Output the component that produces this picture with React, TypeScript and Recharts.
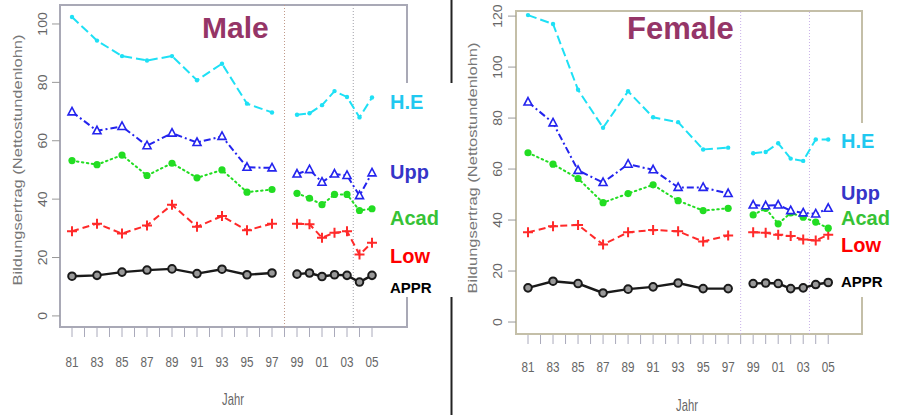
import { LineChart, Line, XAxis, YAxis, ReferenceArea, ReferenceLine } from 'recharts';

// years (1998 is an empty row to break the lines)
const years = [1981, 1983, 1985, 1987, 1989, 1991, 1993, 1995, 1997, 1998, 1999, 2000, 2001, 2002, 2003, 2004, 2005];
const xTicks = [1981, 1982, 1983, 1984, 1985, 1986, 1987, 1988, 1989, 1990, 1991, 1992, 1993, 1994, 1995, 1996, 1997, 1998, 1999, 2000, 2001, 2002, 2003, 2004, 2005];
const maleYTicks = [0, 20, 40, 60, 80, 100];
const femaleYTicks = [0, 20, 40, 60, 80, 100, 120];

const maleHE = [102.4, 94.3, 89.0, 87.5, 89.0, 80.7, 86.4, 72.7, 69.7, null, 68.9, 69.4, 72.2, 77.0, 75.0, 68.0, 74.8];
const maleUpp = [69.9, 63.4, 64.9, 58.3, 62.6, 59.4, 61.5, 50.9, 50.7, null, 48.6, 50.1, 45.8, 48.6, 48.1, 41.2, 49.0];
const maleAcad = [53.2, 51.8, 55.1, 48.1, 52.3, 47.3, 50.0, 42.4, 43.3, null, 42.0, 40.3, 38.1, 41.6, 41.6, 36.1, 36.7];
const maleLow = [29.0, 31.6, 28.2, 31.0, 38.1, 30.5, 34.2, 29.3, 31.6, null, 31.6, 31.4, 26.8, 28.5, 29.0, 21.0, 25.1];
const maleAppr = [13.6, 13.9, 15.0, 15.7, 16.1, 14.5, 16.0, 14.1, 14.7, null, 14.3, 14.7, 13.5, 14.1, 13.9, 11.6, 13.9];

const femaleHE = [120.4, 116.9, 91.1, 76.2, 90.5, 80.3, 78.4, 67.7, 68.4, null, 66.2, 66.7, 70.1, 64.1, 63.2, 71.6, 71.6];
const femaleUpp = [86.3, 78.1, 59.5, 54.7, 61.9, 59.7, 52.8, 52.8, 50.4, null, 45.9, 45.6, 45.9, 43.7, 42.8, 42.4, 44.6];
const femaleAcad = [66.4, 61.9, 56.3, 46.8, 50.4, 53.8, 47.6, 43.7, 44.6, null, 42.0, 44.6, 38.5, 42.8, 41.1, 39.2, 36.8];
const femaleLow = [35.2, 37.6, 38.1, 30.4, 35.2, 36.1, 35.6, 31.6, 33.9, null, 35.2, 35.0, 34.2, 33.7, 32.4, 32.0, 34.2];
const femaleAppr = [13.4, 16.0, 15.1, 11.4, 12.9, 13.8, 15.3, 13.1, 13.1, null, 15.1, 15.3, 15.1, 13.1, 13.4, 14.7, 15.5];

const maleData = years.map((year, i) => ({
  year, he: maleHE[i], upp: maleUpp[i], acad: maleAcad[i], low: maleLow[i], appr: maleAppr[i],
}));
const femaleData = years.map((year, i) => ({
  year, he: femaleHE[i], upp: femaleUpp[i], acad: femaleAcad[i], low: femaleLow[i], appr: femaleAppr[i],
}));

const C_HE = '#1ee0f5';
const C_UPP = '#2424ee';
const C_ACAD = '#22dd22';
const C_LOW = '#ff2a2a';
const C_APPR = '#1a1a1a';
const AXIS_TEXT = '#666';
const FONT = '"Liberation Sans", Arial, sans-serif';

const empty = (p: any) => <g key={`e-${p.index}`} />;

const smallDot = (color: string) => (p: any) =>
  p.cy == null ? empty(p) : <circle key={`d-${p.index}`} cx={p.cx} cy={p.cy} r={2.2} fill={color} />;

const triDot = (color: string) => (p: any) =>
  p.cy == null ? empty(p) : (
    <path
      key={`t-${p.index}`}
      d={`M${p.cx},${p.cy - 4.5} L${p.cx + 4},${p.cy + 3} L${p.cx - 4},${p.cy + 3} Z`}
      fill="#fff"
      stroke={color}
      strokeWidth={1.6}
    />
  );

const fillDot = (color: string) => (p: any) =>
  p.cy == null ? empty(p) : <circle key={`f-${p.index}`} cx={p.cx} cy={p.cy} r={3.6} fill={color} />;

const plusDot = (color: string) => (p: any) =>
  p.cy == null ? empty(p) : (
    <path
      key={`p-${p.index}`}
      d={`M${p.cx - 5},${p.cy} H${p.cx + 5} M${p.cx},${p.cy - 5} V${p.cy + 5}`}
      stroke={color}
      strokeWidth={2}
    />
  );

const ringDot = (color: string) => (p: any) =>
  p.cy == null ? empty(p) : (
    <circle key={`r-${p.index}`} cx={p.cx} cy={p.cy} r={3.8} fill="#999" stroke={color} strokeWidth={2} />
  );

const makeXTick = (labelOffset: number) => (props: any) => {
  const { x, y, payload } = props;
  const yr = payload.value as number;
  return (
    <g>
      <line x1={x} x2={x} y1={y + 1} y2={y + 10} stroke="#aab" strokeWidth={1} />
      {yr % 2 === 1 && (
        <text
          transform={`translate(${x},${y + labelOffset}) scale(0.78,1)`}
          textAnchor="middle"
          fontSize={15}
          fontFamily={FONT}
          fill={AXIS_TEXT}
        >
          {String(yr % 100).padStart(2, '0')}
        </text>
      )}
    </g>
  );
};

const makeYTick = (labelDist: number) => (props: any) => {
  const { x, y, payload } = props;
  return (
    <g>
      <line x1={x - 8} x2={x} y1={y} y2={y} stroke="#999" strokeWidth={1} />
      <text
        transform={`translate(${x - labelDist},${y}) rotate(-90) scale(1,0.85)`}
        textAnchor="middle"
        dominantBaseline="central"
        fontSize={14}
        fontFamily={FONT}
        fill={AXIS_TEXT}
      >
        {payload.value}
      </text>
    </g>
  );
};

interface PanelProps {
  data: any[];
  yTicks: number[];
  yDomain: [number, number];
  xDomain: [number, number];
  width: number;
  margin: { top: number; right: number; bottom: number; left: number };
  yAxisWidth: number;
  xAxisHeight: number;
  xLabelOffset: number;
  yLabelDist: number;
  boxColor: string;
  refColors: [string, string];
}

function Panel(p: PanelProps) {
  return (
    <LineChart width={p.width} height={415} data={p.data} margin={p.margin}>
      <ReferenceArea
        x1={p.xDomain[0]}
        x2={p.xDomain[1]}
        y1={p.yDomain[0]}
        y2={p.yDomain[1]}
        fill="none"
        stroke={p.boxColor}
        strokeWidth={2}
        ifOverflow="visible"
      />
      <XAxis
        dataKey="year"
        type="number"
        domain={p.xDomain}
        ticks={xTicks}
        interval={0}
        allowDataOverflow
        axisLine={false}
        tickLine={false}
        tickSize={0}
        tickMargin={0}
        height={p.xAxisHeight}
        tick={makeXTick(p.xLabelOffset)}
      />
      <YAxis
        type="number"
        domain={p.yDomain}
        ticks={p.yTicks}
        interval={0}
        allowDataOverflow
        axisLine={false}
        tickLine={false}
        tickSize={0}
        tickMargin={0}
        width={p.yAxisWidth}
        tick={makeYTick(p.yLabelDist)}
      />
      <ReferenceLine x={1998} stroke={p.refColors[0]} strokeDasharray="1 2" />
      <ReferenceLine x={2003.5} stroke={p.refColors[1]} strokeDasharray="1 2" />
      <Line dataKey="appr" type="linear" stroke={C_APPR} strokeWidth={2.4} dot={ringDot(C_APPR)} isAnimationActive={false} />
      <Line dataKey="low" type="linear" stroke={C_LOW} strokeWidth={2} strokeDasharray="7 4" dot={plusDot(C_LOW)} isAnimationActive={false} />
      <Line dataKey="acad" type="linear" stroke={C_ACAD} strokeWidth={2} strokeDasharray="1.5 3.5" strokeLinecap="round" dot={fillDot(C_ACAD)} isAnimationActive={false} />
      <Line dataKey="upp" type="linear" stroke={C_UPP} strokeWidth={2} strokeDasharray="7 3 2 3" dot={triDot(C_UPP)} isAnimationActive={false} />
      <Line dataKey="he" type="linear" stroke={C_HE} strokeWidth={2} strokeDasharray="9 4" dot={smallDot(C_HE)} isAnimationActive={false} />
    </LineChart>
  );
}

const yTitle = 'Bildungsertrag (Nettostundenlohn)';

export default function App() {
  return (
    <div style={{ position: 'absolute', left: 0, top: 0, width: 898, height: 415, background: '#fff', overflow: 'hidden' }}>
      <div style={{ position: 'absolute', left: 0, top: 0 }}>
        <Panel
          data={maleData}
          yTicks={maleYTicks}
          yDomain={[-3.8, 106.5]}
          xDomain={[1980.04, 2007.8]}
          width={450}
          margin={{ top: 5, right: 43, bottom: 0, left: 0 }}
          yAxisWidth={60}
          xAxisHeight={88}
          xLabelOffset={40}
          yLabelDist={17}
          boxColor="#a9a9b6"
          refColors={['#c09a8a', '#a0a0a8']}
        />
      </div>
      <div style={{ position: 'absolute', left: 450, top: 0 }}>
        <Panel
          data={femaleData}
          yTicks={femaleYTicks}
          yDomain={[-4.7, 122]}
          xDomain={[1980.04, 2007.7]}
          width={448}
          margin={{ top: 11, right: 36, bottom: 0, left: 0 }}
          yAxisWidth={66}
          xAxisHeight={81}
          xLabelOffset={38}
          yLabelDist={18}
          boxColor="#c4bfa8"
          refColors={['#c8b0e8', '#c8b0e8']}
        />
      </div>
      <svg width={898} height={415} style={{ position: 'absolute', left: 0, top: 0, pointerEvents: 'none' }} fontFamily={FONT}>
        <line x1={451.5} x2={451.5} y1={0} y2={415} stroke="#222" strokeWidth={2} />
        <rect x={379} y={83} width={74} height={214} fill="#fff" />
        <rect x={835} y={123} width={63} height={174} fill="#fff" />

        <text x={202} y={38} fontSize={30} fontWeight="bold" fill="#953567">Male</text>
        <text x={627} y={39} fontSize={31} fontWeight="bold" fill="#953567">Female</text>

        <text x={390} y={109} fontSize={20} fontWeight="bold" fill="#20c8f0">H.E</text>
        <text x={390} y={179} fontSize={20} fontWeight="bold" fill="#3535c8">Upp</text>
        <text x={390} y={225} fontSize={20} fontWeight="bold" fill="#36c236">Acad</text>
        <text x={390} y={263} fontSize={20} fontWeight="bold" fill="#ff0000">Low</text>
        <text x={390} y={293} fontSize={15} fontWeight="bold" fill="#000">APPR</text>

        <text x={841} y={148} fontSize={20} fontWeight="bold" fill="#20c8f0">H.E</text>
        <text x={841} y={200} fontSize={20} fontWeight="bold" fill="#3535c8">Upp</text>
        <text x={841} y={225} fontSize={20} fontWeight="bold" fill="#36c236">Acad</text>
        <text x={841} y={252} fontSize={20} fontWeight="bold" fill="#ff0000">Low</text>
        <text x={841} y={287} fontSize={15} fontWeight="bold" fill="#000">APPR</text>

        <text transform="translate(18,160) rotate(-90) scale(1,0.72)" textAnchor="middle" dominantBaseline="central" fontSize={16.5} fill="#777">{yTitle}</text>
        <text transform="translate(473,168) rotate(-90) scale(1,0.72)" textAnchor="middle" dominantBaseline="central" fontSize={16.5} fill="#777">{yTitle}</text>

        <text transform="translate(233,405) scale(0.7,1)" textAnchor="middle" fontSize={16} fill="#666">Jahr</text>
        <text transform="translate(687,411) scale(0.7,1)" textAnchor="middle" fontSize={16} fill="#666">Jahr</text>
      </svg>
    </div>
  );
}
